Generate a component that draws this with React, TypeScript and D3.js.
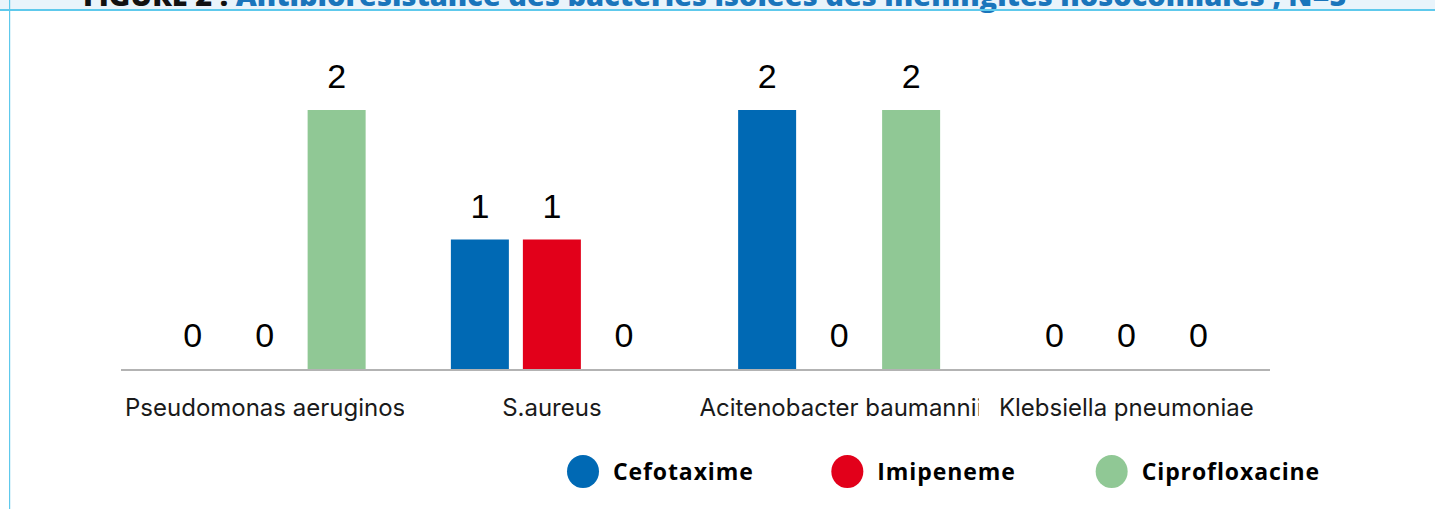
import React from "react";
import * as d3 from "d3";

const categories = ["Pseudomonas aeruginosa", "S.aureus", "Acitenobacter baumannii", "Klebsiella pneumoniae"];
const seriesNames = ["Cefotaxime", "Imipeneme", "Ciprofloxacine"];
const cefotaxime = [0, 1, 2, 0];
const imipeneme = [0, 1, 0, 0];
const ciprofloxacine = [2, 0, 2, 0];
const seriesValues = [cefotaxime, imipeneme, ciprofloxacine];
const seriesColors = ["#0069b4", "#e2001a", "#90c895"];
const titlePrefix = "FIGURE 2 : ";
const titleText = "Antibiorésistance des bactéries isolées des méningites nosocomiales ; N=5";

const W = 1435;
const H = 509;
const LABEL_FONT = "24px Inter";
const LABEL_MAX = 270;

function measure(text: string, font: string): number {
  if (typeof document === "undefined") return text.length * 12;
  const c = document.createElement("canvas");
  const ctx = c.getContext("2d");
  if (!ctx) return text.length * 12;
  ctx.font = font;
  return ctx.measureText(text).width;
}

export default function App() {
  const x0 = d3.scaleBand<string>().domain(categories).range([121, 1270]);
  const bw = x0.bandwidth();
  const x1 = d3
    .scaleBand<string>()
    .domain(seriesNames)
    .range([bw / 2 - 108, bw / 2 + 108])
    .paddingInner(14 / 72)
    .paddingOuter(7 / 72);
  const y = d3.scaleLinear().domain([0, 2]).range([369, 110]);
  const legendX = d3.scaleBand<string>().domain(seriesNames).range([567, 1360]);

  return (
    <svg width={W} height={H} style={{ position: "absolute", left: 0, top: 0, background: "#fff" }}>
      <defs>
        {categories.map((c, i) => (
          <clipPath id={`clip${i}`} key={c}>
            <rect x={(x0(c) as number) + 4} y={380} width={bw - 8} height={50} />
          </clipPath>
        ))}
      </defs>
      <rect x={0} y={0} width={W} height={10} fill="#e9f4fb" />
      <text x={83} y={6} fontFamily="'Open Sans'" fontWeight={800} fontSize={29}>
        <tspan fill="#111">{titlePrefix}</tspan>
        <tspan fill="#1a75bb">{titleText}</tspan>
      </text>
      <rect x={0} y={9} width={W} height={2} fill="#5ec9ec" />
      <rect x={9} y={0} width={1.2} height={H} fill="#5ec9ec" />

      {categories.map((c, i) => (
        <g key={c} transform={`translate(${x0(c)},0)`}>
          {seriesNames.map((s, j) => {
            const v = seriesValues[j][i];
            const bx = x1(s) as number;
            return (
              <g key={s}>
                {v > 0 && (
                  <rect x={bx} y={y(v)} width={x1.bandwidth()} height={y(0) - y(v)} fill={seriesColors[j]} />
                )}
                <text
                  x={bx + x1.bandwidth() / 2}
                  y={y(v) - 22}
                  textAnchor="middle"
                  fontFamily="'Liberation Sans'"
                  fontSize={34}
                  fill="#000"
                >
                  {v}
                </text>
              </g>
            );
          })}
        </g>
      ))}

      <line x1={121} x2={1270} y1={370} y2={370} stroke="#b3b3b3" strokeWidth={2} />

      {categories.map((c, i) => {
        const tw = measure(c, LABEL_FONT);
        const start = x0(c) as number;
        const fits = tw <= LABEL_MAX;
        return (
          <g key={c} clipPath={`url(#clip${i})`}>
            <text
              x={fits ? start + bw / 2 : start + 4}
              y={416}
              textAnchor={fits ? "middle" : "start"}
              fontFamily="Inter"
              fontSize={24}
              fill="#1a1a1a"
            >
              {c}
            </text>
          </g>
        );
      })}

      {seriesNames.map((s, j) => {
        const lx = legendX(s) as number;
        return (
          <g key={s}>
            <ellipse cx={lx + 16} cy={471.5} rx={16} ry={16.5} fill={seriesColors[j]} />
            <text
              x={lx + 46}
              y={480}
              fontFamily="'Open Sans'"
              fontWeight={700}
              fontSize={23}
              letterSpacing={0.9}
              fill="#000"
            >
              {s}
            </text>
          </g>
        );
      })}
    </svg>
  );
}
